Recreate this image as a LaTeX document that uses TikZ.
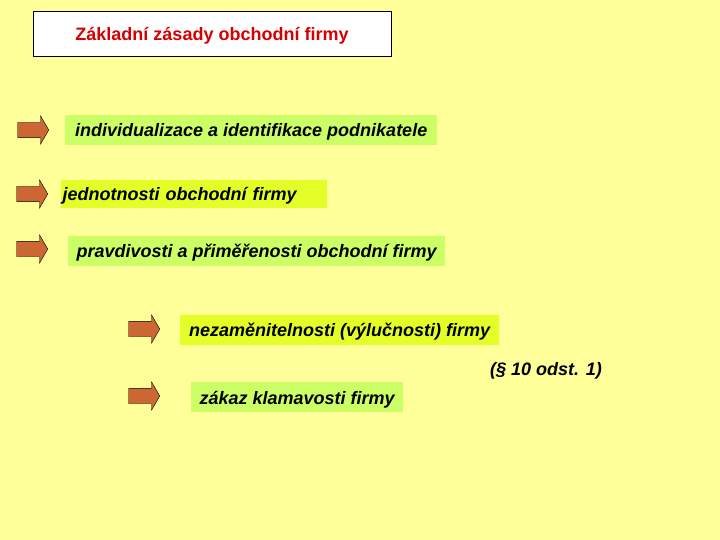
\documentclass[tikz,border=0pt]{standalone}
\usepackage{fontspec}
\setmainfont{Liberation Sans}
\usetikzlibrary{shapes.arrows,positioning}

\definecolor{slide}{RGB}{255,255,153}
\definecolor{leaf}{RGB}{204,255,102}
\definecolor{lime}{RGB}{228,255,40}
\definecolor{rust}{RGB}{204,102,51}
\definecolor{heading}{RGB}{214,0,0}

\begin{document}
\begin{tikzpicture}[x=1pt,y=-1pt,
    pointer/.style={single arrow,draw=black,fill=rust,inner xsep=0pt,inner ysep=7.5pt,
                    minimum height=31,
                    single arrow head extend=6.5,single arrow tip angle=120},
    item/.style={fill=#1,anchor=west,minimum height=30,inner ysep=0pt,
                 text height=14pt,text depth=0pt,
                 font=\fontsize{18}{21}\selectfont\bfseries\itshape}]

                \fill[slide] (0,0) rectangle (720,540);

                \node[draw=black,fill=white,minimum width=358,minimum height=45,
                      text height=14pt,text depth=0pt,
                      text=heading,font=\fontsize{18}{21}\selectfont\bfseries]
                      (title) at (212,33.5) {Základní zásady obchodní firmy};

                \node[item=leaf,minimum width=372] (i1) at (65,130)
                      {individualizace a identifikace podnikatele};

                \node[item=lime,minimum height=28,inner xsep=1.5pt,text width=263,align=left] (i2) at (61,194)
                      {jednotnosti obchodní firmy};

                \node[item=leaf,minimum width=377] (i3) at (68,250.5)
                      {pravdivosti a přiměřenosti obchodní firmy};

                \node[item=lime,minimum width=319] (i4) at (180,329.5)
                      {nezaměnitelnosti (výlučnosti) firmy};

                \node[item=leaf,minimum width=212] (i5) at (191,397)
                      {zákaz klamavosti firmy};

                \node[font=\fontsize{18}{21}\selectfont\bfseries\itshape] (para) at (546,371)
                      {(§ 10 odst. 1)};

                \foreach \name/\pos in {p1/{31,130}, p2/{30,194}, p3/{30,249}, p4/{142,329}, p5/{142,396}}
                    {
                    \node[pointer] (\name) at (\pos) {};
                    }

            \end{tikzpicture}
\end{document}
